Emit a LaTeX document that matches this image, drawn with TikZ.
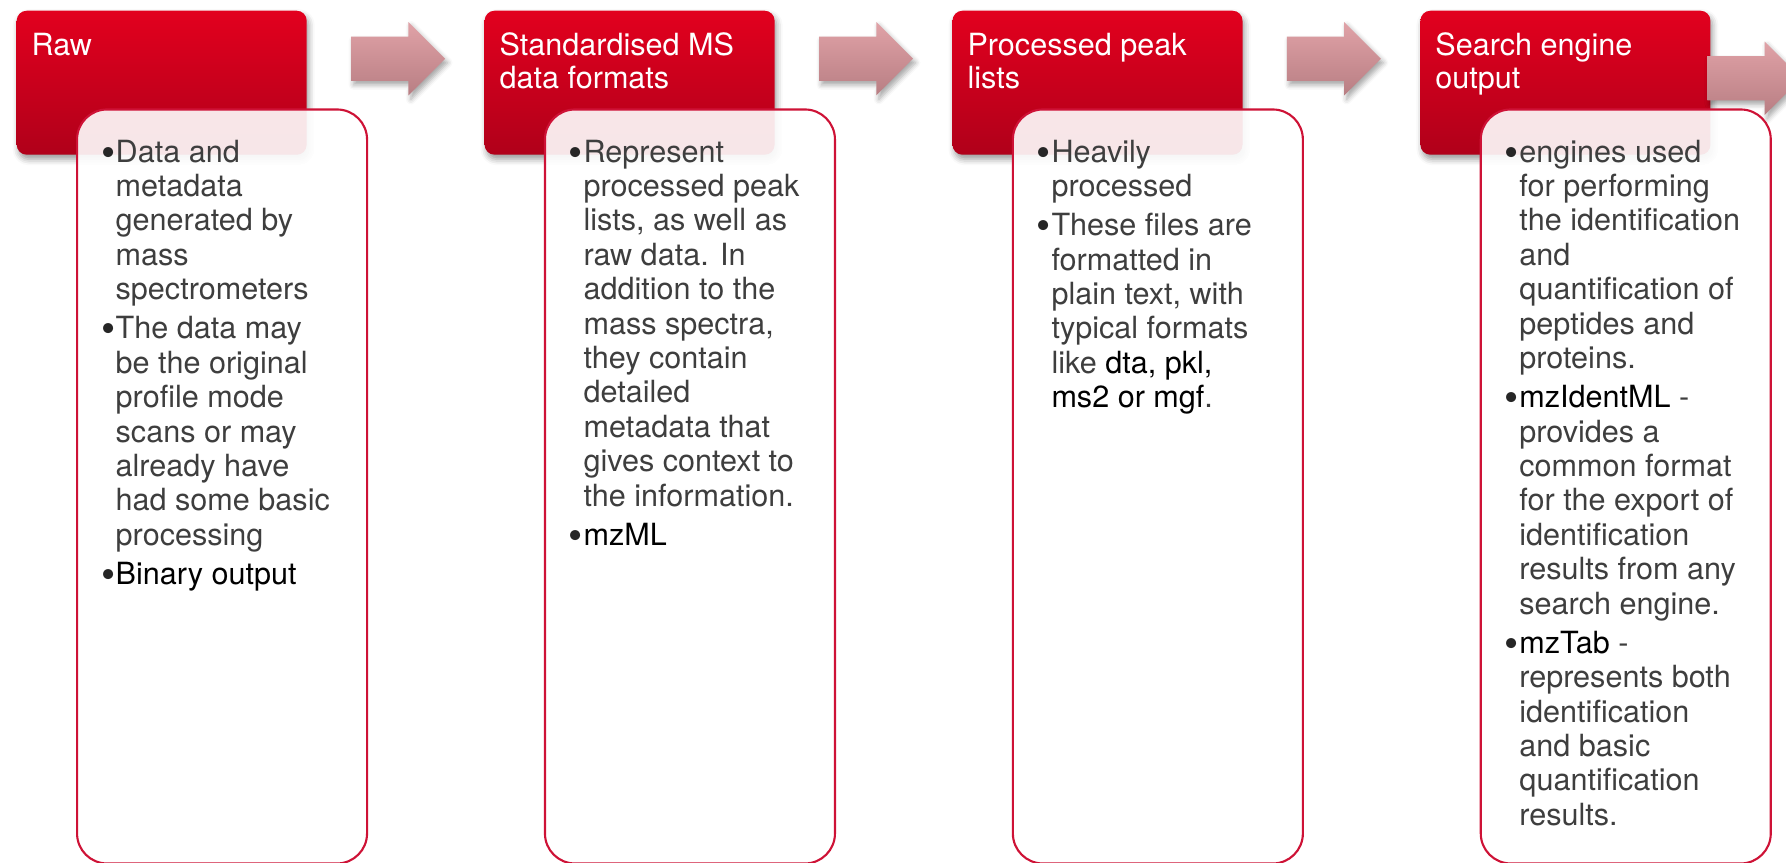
\documentclass[tikz,border=0pt]{standalone}
\usepackage{fontspec}
\setmainfont{TeX Gyre Heros}
\usetikzlibrary{positioning,calc,shapes.arrows,shadows.blur}
\definecolor{stagered}{RGB}{226,0,30}
\definecolor{stagereddark}{RGB}{176,0,26}
\definecolor{stageedge}{RGB}{206,18,54}
\definecolor{arrowpink}{RGB}{224,162,167}
\definecolor{arrowpinkdark}{RGB}{184,126,131}
\definecolor{bodygray}{RGB}{62,62,62}
\newcommand\bul{\llap{\raisebox{-0.4mm}{\fontsize{11.5}{0}\selectfont\textcolor{black!85}{\textbullet}}\hspace{0.05mm}}}
\newcommand\keyterm[1]{\textcolor{black}{#1}}
\tikzset{
    stagehead/.style={rounded corners=1mm, minimum width=29mm, minimum height=14.4mm, inner sep=0, top color=stagered, bottom color=stagereddark, blur shadow={shadow xshift=0.2mm, shadow yshift=-0.45mm, shadow blur radius=0.6mm, shadow opacity=40}},
    stagebody/.style={anchor=north west, draw=stageedge, line width=0.6pt, rounded corners=3mm, fill=white, fill opacity=0.9, minimum width=29mm, minimum height=75.4mm},
    stagearrow/.style={single arrow, single arrow head extend=1.45mm, text height=4.3mm, text depth=0pt, inner sep=0, minimum height=9.4mm, top color=arrowpink, bottom color=arrowpinkdark, blur shadow={shadow xshift=0.25mm, shadow yshift=-0.4mm, shadow blur radius=0.5mm, shadow opacity=35}},
    stagetitle/.style={anchor=north west, inner sep=0, align=left, text=white, font=\fontsize{8.7}{9.4}\selectfont},
    stagetext/.style={anchor=north west, inner sep=0, align=left, text=bodygray, font=\fontsize{8.7}{9.79}\selectfont}
}
\begin{document}
\begin{tikzpicture}
    \useasboundingbox (0,0) rectangle (178.6mm,-86.2mm);
    \node[stagehead, anchor=north west] (raw) at (1.6mm,-1mm) {};
    \node[stagehead, right=17.65mm of raw] (stdms) {};
    \node[stagehead, right=17.65mm of stdms] (peaks) {};
    \node[stagehead, right=17.65mm of peaks] (search) {};
    \node[stagearrow, right=4.3mm of raw, yshift=2.4mm] (rawarrow) {};
    \node[stagearrow, right=4.3mm of stdms, yshift=2.4mm] (stdmsarrow) {};
    \node[stagearrow, right=4.3mm of peaks, yshift=2.4mm] (peaksarrow) {};
    \node[stagearrow, right=-0.45mm of search, yshift=0.45mm] (searcharrow) {};
    \node[stagebody] (rawbody) at ($(raw.south west)+(6mm,4.7mm)$) {};
    \node[stagebody] (stdmsbody) at ($(stdms.south west)+(6mm,4.7mm)$) {};
    \node[stagebody] (peaksbody) at ($(peaks.south west)+(6mm,4.7mm)$) {};
    \node[stagebody] (searchbody) at ($(search.south west)+(6mm,4.7mm)$) {};
    \node[stagetitle] (rawtitle) at ($(raw.north west)+(1.5mm,-2.18mm)$) {\strut Raw};
    \node[stagetitle] (stdmstitle) at ($(stdms.north west)+(1.5mm,-2.18mm)$) {\strut Standardised MS\\data formats};
    \node[stagetitle] (peakstitle) at ($(peaks.north west)+(1.5mm,-2.18mm)$) {\strut Processed peak\\lists};
    \node[stagetitle] (searchtitle) at ($(search.north west)+(1.5mm,-2.18mm)$) {\strut Search engine\\output};
    \node[stagetext] (rawtext) at ($(rawbody.north west)+(3.9mm,-2.89mm)$) {\strut\bul Data and\\metadata\\generated by\\mass\\spectrometers\\[0.47mm]
        \bul The data may\\be the original\\profile mode\\scans or may\\already have\\had some basic\\processing\\[0.47mm]
        \bul\keyterm{Binary output}};
    \node[stagetext] (stdmstext) at ($(stdmsbody.north west)+(3.9mm,-2.89mm)$) {\strut\bul Represent\\processed peak\\lists, as well as\\raw data. In\\addition to the\\mass spectra,\\they contain\\detailed\\metadata that\\gives context to\\the information.\\[0.47mm]
        \bul\keyterm{mzML}};
    \node[stagetext] (peakstext) at ($(peaksbody.north west)+(3.9mm,-2.89mm)$) {\strut\bul Heavily\\processed\\[0.47mm]
        \bul These files are\\formatted in\\plain text, with\\typical formats\\like \keyterm{dta, pkl,}\\\keyterm{ms2 or mgf}.};
    \node[stagetext] (searchtext) at ($(searchbody.north west)+(3.9mm,-2.89mm)$) {\strut\bul engines used\\for performing\\the identification\\and\\quantification of\\peptides and\\proteins.\\[0.47mm]
        \bul\keyterm{mzIdentML} -\\provides a\\common format\\for the export of\\identification\\results from any\\search engine.\\[0.47mm]
        \bul\keyterm{mzTab} -\\represents both\\identification\\and basic\\quantification\\results.};
\end{tikzpicture}
\end{document}
